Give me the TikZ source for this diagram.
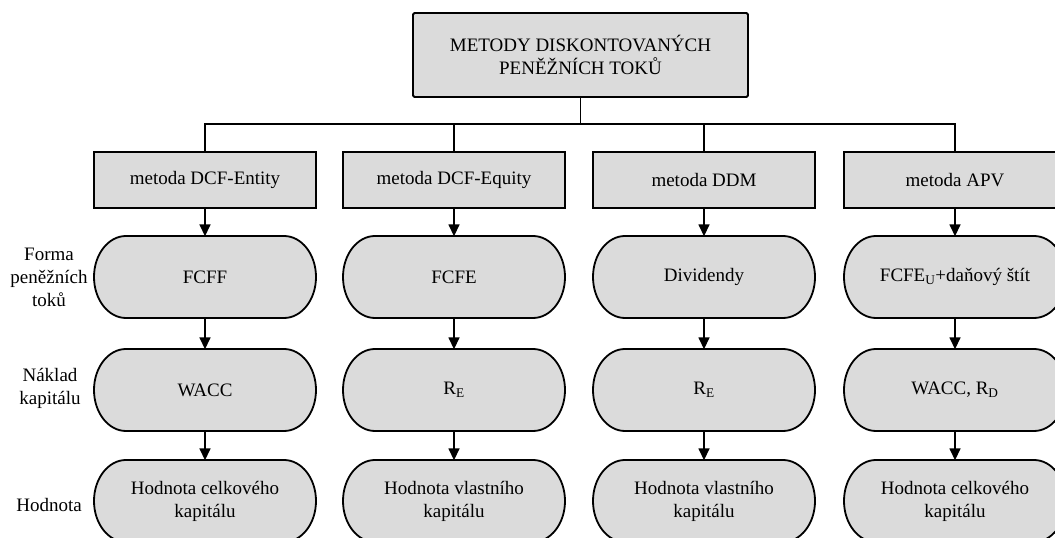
\documentclass[tikz,border=0pt]{standalone}
\usepackage{fontspec}
\setmainfont{Liberation Serif}
\usetikzlibrary{arrows.meta,calc}
\newcommand\stadnode[4]{%
  \draw[stadline] ($(#2,#3)+(-79,41)$) -- ($(#2,#3)+(79,41)$)
    arc[start angle=90,end angle=-90,x radius=32,y radius=41]
    -- ($(#2,#3)+(-79,-41)$)
    arc[start angle=270,end angle=90,x radius=32,y radius=41] -- cycle;
  \node[stadtext] (#1) at (#2,#3) {#4};}
\begin{document}
\begin{tikzpicture}[x=1pt,y=1pt,
  txt/.style={font=\fontsize{19}{23}\selectfont, align=center},
  boxnode/.style={txt, draw, line width=1.8pt, fill=black!14, minimum width=222pt,
    minimum height=56pt, inner sep=0pt},
  topbox/.style={txt, draw, line width=1.8pt, fill=black!14, minimum width=335pt,
    minimum height=84pt, inner sep=0pt, rounded corners=1.5pt},
  stadline/.style={draw, line width=1.8pt, fill=black!14},
  stadtext/.style={txt, minimum width=222pt, minimum height=82pt, inner sep=0pt},
  conn/.style={line width=1.6pt},
  arr/.style={conn, -{Triangle[width=11pt,length=12pt]}, shorten >=-0.5pt},
  lab/.style={txt}
]
\useasboundingbox (0,0) rectangle (1055,538);
\clip (0,0) rectangle (1055,538);

\node[topbox] (top) at (580.5,483) {METODY DISKONTOVANÝCH\\PENĚŽNÍCH TOKŮ};

\node[boxnode] (m1) at (205,358) {metoda DCF-Entity};
\node[boxnode] (m2) at (454,358) {metoda DCF-Equity};
\node[boxnode] (m3) at (704,358) {metoda DDM};
\node[boxnode] (m4) at (955,358) {metoda APV};

\coordinate (hl) at (205,414);
\draw[conn] (top.south) -- (top.south |- hl);
\draw[conn] (m1.north) -- (m1.north |- hl) -- (m4.north |- hl) -- (m4.north);
\draw[conn] (m2.north) -- (m2.north |- hl);
\draw[conn] (m3.north) -- (m3.north |- hl);

\stadnode{f1}{205}{261}{FCFF}
\stadnode{f2}{454}{261}{FCFE}
\stadnode{f3}{704}{261}{Dividendy}
\stadnode{f4}{955}{261}{FCFE\textsubscript{U}+daňový štít}

\stadnode{k1}{205}{148}{WACC}
\stadnode{k2}{454}{148}{R\textsubscript{E}}
\stadnode{k3}{704}{148}{R\textsubscript{E}}
\stadnode{k4}{955}{148}{WACC, R\textsubscript{D}}

\stadnode{h1}{205}{37}{Hodnota celkového\\kapitálu}
\stadnode{h2}{454}{37}{Hodnota vlastního\\kapitálu}
\stadnode{h3}{704}{37}{Hodnota vlastního\\kapitálu}
\stadnode{h4}{955}{37}{Hodnota celkového\\kapitálu}

\foreach \c in {1,2,3,4}{
  \draw[arr] (m\c.south) -- (f\c.north);
  \draw[arr] (f\c.south) -- (k\c.north);
  \draw[arr] (k\c.south) -- (h\c.north);
}

\node[lab] (l1) at (49,261) {Forma\\peněžních\\toků};
\node[lab] (l2) at (50,150) {Náklad\\kapitálu};
\node[lab] (l3) at (49,33) {Hodnota};
\end{tikzpicture}
\end{document}
